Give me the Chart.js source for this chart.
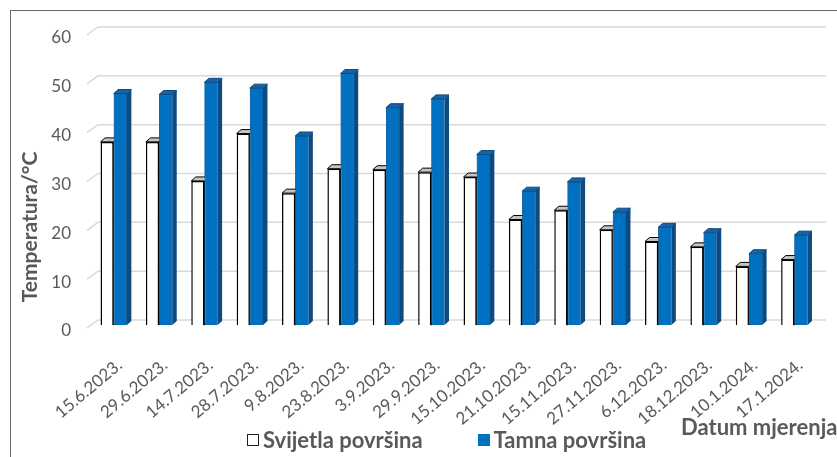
<!DOCTYPE html>
<html>
<head>
<meta charset="utf-8">
<script src="https://cdn.jsdelivr.net/npm/chart.js@4.4.0/dist/chart.umd.min.js"></script>
<style>
    html, body { margin: 0; padding: 0; background: #fff; }
    .chart-wrap { position: relative; width: 837px; height: 457px; overflow: hidden; }
    .chart-wrap canvas { display: block; }
    .legend {
        position: absolute; top: 426px; left: 247px;
        display: flex; align-items: center;
        font: bold 22px Lato, sans-serif; color: #595959; white-space: nowrap;
    }
    .legend-item { display: flex; align-items: center; margin-right: 55px; }
    .legend-box { width: 12px; height: 12px; margin-right: 4px; box-sizing: border-box; }
</style>
</head>
<body>
<div class="chart-wrap">
    <canvas id="chart" width="837" height="457"></canvas>
    <div class="legend" id="legend"></div>
</div>
<script>
const dates = [
    "15.6.2023.", "29.6.2023.", "14.7.2023.", "28.7.2023.", "9.8.2023.", "23.8.2023.",
    "3.9.2023.", "29.9.2023.", "15.10.2023.", "21.10.2023.", "15.11.2023.", "27.11.2023.",
    "6.12.2023.", "18.12.2023.", "10.1.2024.", "17.1.2024."
];
const lightSurface = [37.5, 37.5, 29.5, 39.2, 27.0, 32.0, 31.8, 31.3, 30.3, 21.6, 23.5, 19.5, 17.1, 16.0, 12.0, 13.4];
const darkSurface = [47.4, 47.2, 49.7, 48.5, 38.7, 51.5, 44.5, 46.3, 34.9, 27.4, 29.3, 23.1, 20.0, 18.9, 14.6, 18.4];
const yTicks = [0, 10, 20, 30, 40, 50, 60];

const seriesNames = ["Svijetla površina", "Tamna površina"];
const textGrey = "#595959";

// depth offset of the fake 3D bars, px
const DX = 4.5, DY = 4;
const faces = [
    { top: "#c4c4c4", side: "#e6e6e6", stroke: "#000000" },
    { top: "#1763a6", side: "#0c4a82", stroke: "#0a4a80" },
];

function drawFaces(ctx, bar, f, outlineSide) {
    const p = bar.getProps(["x", "y", "base", "width"], true);
    const l = p.x - p.width / 2;
    const r = p.x + p.width / 2;
    ctx.strokeStyle = f.stroke;
    ctx.beginPath();
    ctx.moveTo(r, p.y);
    ctx.lineTo(r + DX, p.y - DY);
    ctx.lineTo(r + DX, p.base - DY);
    ctx.lineTo(r, p.base);
    ctx.closePath();
    ctx.fillStyle = f.side;
    ctx.fill();
    if (outlineSide) ctx.stroke();
    ctx.beginPath();
    ctx.moveTo(l, p.y);
    ctx.lineTo(l + DX, p.y - DY);
    ctx.lineTo(r + DX, p.y - DY);
    ctx.lineTo(r, p.y);
    ctx.closePath();
    ctx.fillStyle = f.top;
    ctx.fill();
    ctx.stroke();
}

const fake3d = {
    id: "fake3d",
    beforeDraw(chart) {
        const ctx = chart.ctx;
        ctx.save();
        ctx.strokeStyle = "#6b6b6b";
        ctx.lineWidth = 1;
        ctx.strokeRect(10.5, 10.5, 1000, 1000);
        ctx.restore();
    },
    beforeDatasetsDraw(chart) {
        // floor/wall gridlines: short slanted piece in front, then flat along the back wall
        const ctx = chart.ctx;
        const y = chart.scales.y;
        const area = chart.chartArea;
        ctx.save();
        ctx.strokeStyle = "#d9d9d9";
        ctx.lineWidth = 1.5;
        y.ticks.forEach((t) => {
            const py = y.getPixelForValue(t.value);
            ctx.beginPath();
            ctx.moveTo(area.left - 4, py + 3);
            ctx.lineTo(area.left + 7, py - 5);
            ctx.lineTo(area.right + 9, py - 5);
            ctx.stroke();
        });
        ctx.restore();
    },
    afterDatasetsDraw(chart) {
        // white bar faces first, then the blue bar over them so it hides what is behind
        const ctx = chart.ctx;
        const light = chart.getDatasetMeta(0).data;
        const dark = chart.getDatasetMeta(1).data;
        ctx.save();
        ctx.lineWidth = 1;
        light.forEach((bar, i) => {
            drawFaces(ctx, bar, faces[0], true);
            dark[i].draw(ctx, chart.chartArea);
            drawFaces(ctx, dark[i], faces[1], false);
        });
        ctx.restore();
    },
    afterDraw(chart) {
        const ctx = chart.ctx;
        ctx.save();
        ctx.fillStyle = textGrey;
        ctx.font = "bold 21px Lato";
        ctx.textBaseline = "middle";
        ctx.textAlign = "center";
        ctx.translate(30, 227);
        ctx.rotate(-Math.PI / 2);
        ctx.fillText("Temperatura/°C", 0, 0);
        ctx.restore();

        ctx.save();
        ctx.fillStyle = textGrey;
        ctx.font = "bold 22px Lato";
        ctx.textBaseline = "middle";
        ctx.textAlign = "left";
        ctx.fillText("Datum mjerenja", 681, 428);
        ctx.restore();
    },
};

new Chart(document.getElementById("chart"), {
    type: "bar",
    data: {
        labels: dates,
        datasets: [
            {
                label: seriesNames[0],
                data: lightSurface,
                backgroundColor: "#ffffff",
                borderColor: "#000000",
                borderWidth: 1.5,
            },
            {
                label: seriesNames[1],
                data: darkSurface,
                backgroundColor: "#0070C0",
                borderColor: "#0a5a9c",
                borderWidth: 0.8,
            },
        ],
    },
    options: {
        responsive: false,
        animation: false,
        categoryPercentage: 0.58,
        barPercentage: 1.0,
        layout: { padding: { top: 32, left: 10, right: 20, bottom: 0 } },
        plugins: {
            legend: { display: false },
            tooltip: { enabled: false },
        },
        scales: {
            x: {
                grid: { display: false },
                border: { display: false },
                ticks: {
                    autoSkip: false,
                    minRotation: 40,
                    maxRotation: 40,
                    padding: 22,
                    labelOffset: 6,
                    color: textGrey,
                    font: { family: "Lato", size: 17 },
                },
                afterFit(scale) {
                    scale.height = 132;
                },
            },
            y: {
                min: 0,
                max: 60,
                grid: { display: false },
                border: { display: false },
                afterBuildTicks(scale) {
                    scale.ticks = yTicks.map((v) => ({ value: v }));
                },
                ticks: {
                    padding: 12,
                    labelOffset: 6,
                    color: textGrey,
                    font: { family: "Lato", size: 17 },
                },
                afterFit(scale) {
                    scale.width = 81;
                },
            },
        },
    },
    plugins: [fake3d],
});

document.getElementById("legend").innerHTML = `
    <span class="legend-item">
        <span class="legend-box" style="background:#fff;border:1px solid #222"></span>${seriesNames[0]}
    </span>
    <span class="legend-item">
        <span class="legend-box" style="background:#0070C0"></span>${seriesNames[1]}
    </span>`;
</script>
</body>
</html>
